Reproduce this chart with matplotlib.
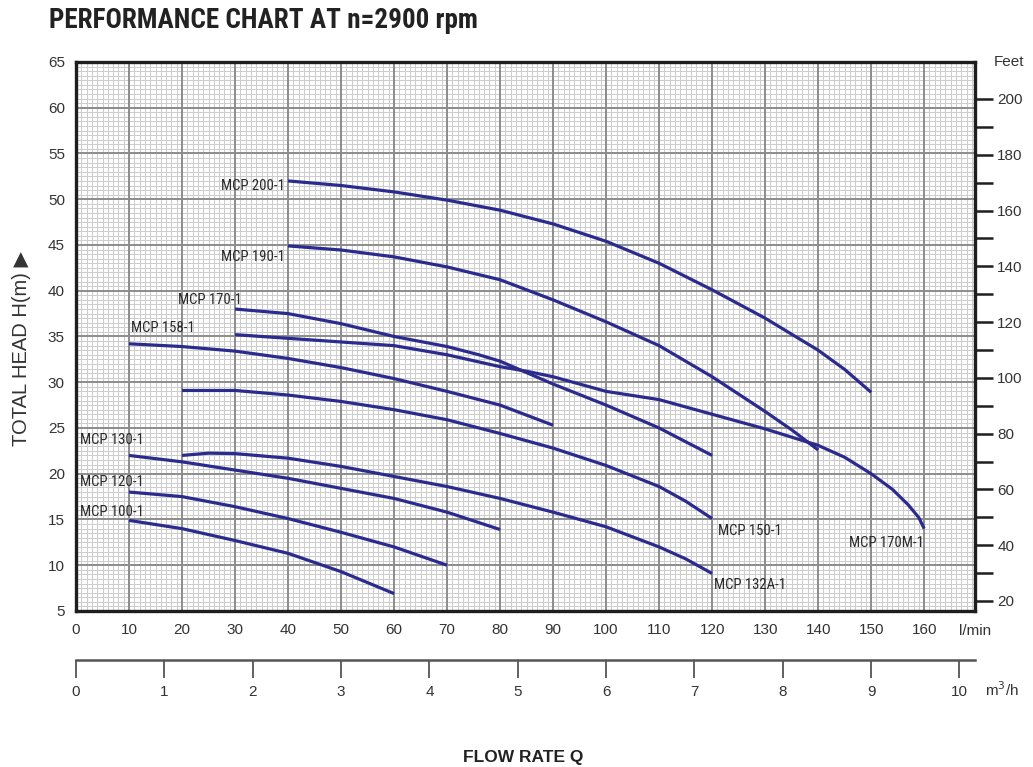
import matplotlib
matplotlib.use("Agg")
import matplotlib.pyplot as plt
from matplotlib import font_manager
from matplotlib.ticker import MultipleLocator, FixedLocator

# ---------------- data ----------------
flow_200 = [40, 50, 60, 70, 80, 90, 100, 110, 120, 130, 140, 145, 150]
head_200 = [52.0, 51.5, 50.8, 49.9, 48.8, 47.3, 45.4, 43.0, 40.1, 37.0, 33.5, 31.4, 28.9]

flow_190 = [40, 50, 60, 70, 80, 90, 100, 110, 120, 130, 135, 140]
head_190 = [44.9, 44.45, 43.7, 42.6, 41.2, 39.0, 36.6, 34.0, 30.6, 26.8, 24.8, 22.6]

flow_170 = [30, 40, 50, 60, 70, 76, 80, 90, 100, 110, 120]
head_170 = [38.0, 37.5, 36.4, 35.0, 33.9, 33.0, 32.3, 29.8, 27.5, 25.0, 22.0]

flow_170M = [30, 40, 50, 60, 70, 80, 85, 90, 100, 110, 120, 130, 140, 145, 150, 154, 157, 159, 160]
head_170M = [35.2, 34.8, 34.4, 34.0, 33.0, 31.7, 31.2, 30.6, 29.0, 28.1, 26.5, 24.9, 23.1, 21.8, 20.0, 18.3, 16.6, 15.2, 14.0]

flow_158 = [10, 20, 30, 40, 50, 60, 70, 80, 90]
head_158 = [34.2, 33.9, 33.4, 32.6, 31.6, 30.4, 29.0, 27.5, 25.3]

flow_150 = [20, 30, 40, 50, 60, 70, 80, 90, 100, 110, 115, 120]
head_150 = [29.1, 29.1, 28.6, 27.9, 27.0, 25.9, 24.4, 22.8, 20.9, 18.6, 17.0, 15.1]

flow_130 = [10, 20, 30, 40, 50, 60, 70, 80]
head_130 = [22.0, 21.3, 20.4, 19.5, 18.4, 17.3, 15.8, 13.9]

flow_132A = [20, 25, 30, 40, 50, 60, 70, 80, 90, 100, 110, 115, 120]
head_132A = [22.0, 22.25, 22.2, 21.7, 20.8, 19.7, 18.6, 17.3, 15.8, 14.2, 12.0, 10.7, 9.1]

flow_120 = [10, 20, 30, 40, 50, 60, 70]
head_120 = [18.0, 17.5, 16.4, 15.1, 13.6, 12.0, 10.0]

flow_100 = [10, 20, 30, 40, 50, 60]
head_100 = [14.9, 14.0, 12.7, 11.3, 9.3, 6.9]

curve_flows = [flow_200, flow_190, flow_170, flow_170M, flow_158, flow_150,
               flow_130, flow_132A, flow_120, flow_100]
curve_heads = [head_200, head_190, head_170, head_170M, head_158, head_150,
               head_130, head_132A, head_120, head_100]

label_texts = ["MCP 200-1", "MCP 190-1", "MCP 170-1", "MCP 158-1", "MCP 130-1",
               "MCP 120-1", "MCP 100-1", "MCP 150-1", "MCP 132A-1", "MCP 170M-1"]
label_x = [39.4, 39.4, 31.3, 10.4, 0.75, 0.75, 0.75, 121.1, 120.4, 145.8]
label_y = [51.45, 43.7, 39.0, 35.9, 23.7, 19.1, 15.85, 13.7, 7.85, 12.4]
label_ha = ["right", "right", "right", "left", "left", "left", "left", "left", "left", "left"]

flow_ticks = list(range(0, 161, 10))
head_ticks = list(range(5, 66, 5))
m3h_ticks = list(range(0, 11))
feet_major = list(range(20, 201, 20))
feet_minor = list(range(30, 191, 20))

FT_PER_M = 3.28084
LPM_PER_M3H = 1000.0 / 60.0

# ---------------- fonts ----------------
avail = {f.name for f in font_manager.fontManager.ttflist}
def pick(cands):
    for c in cands:
        if c in avail:
            return c
    return "DejaVu Sans"
base_font = pick(["Liberation Sans", "Arimo", "DejaVu Sans"])
narrow_font = pick(["Liberation Sans Narrow", "DejaVu Sans Condensed", "Roboto Condensed", "Liberation Sans"])
plt.rcParams["font.family"] = [base_font, "DejaVu Sans"]

# ---------------- figure ----------------
fig = plt.figure(figsize=(10.33, 7.67), dpi=100)
ax = fig.add_axes([0.0736, 0.2034, 0.8703, 0.7158])

x_max = 169.6
ax.set_xlim(0, x_max)
ax.set_ylim(5, 65)

ax.xaxis.set_major_locator(FixedLocator(flow_ticks))
ax.yaxis.set_major_locator(FixedLocator(head_ticks))
ax.xaxis.set_minor_locator(MultipleLocator(1))
ax.yaxis.set_minor_locator(MultipleLocator(0.5))
ax.grid(which="minor", color="#cdcdcd", linewidth=0.75)
ax.grid(which="major", visible=False)
ax.set_axisbelow(True)
# major grid drawn above the minor mesh so it stays solid
ax.vlines(flow_ticks[1:], 5, 65, colors="#8c8c8c", linewidth=1.4, zorder=1.5)
ax.hlines(head_ticks[1:-1], 0, x_max, colors="#8c8c8c", linewidth=1.4, zorder=1.5)

ax.tick_params(axis="both", which="both", length=0)
ax.tick_params(axis="x", which="major", pad=9, labelsize=11, labelcolor="#333333")
ax.tick_params(axis="y", which="major", pad=8, labelsize=11, labelcolor="#333333")

for s in ax.spines.values():
    s.set_linewidth(2.4)
    s.set_color("#1e1e1e")
    s.set_zorder(5)

line_color = "#2b2b8f"
for fx, hy in zip(curve_flows, curve_heads):
    ax.plot(fx, hy, color=line_color, linewidth=2.3, solid_joinstyle="round",
            solid_capstyle="butt", zorder=3)

for t, x, y, ha in zip(label_texts, label_x, label_y, label_ha):
    ax.text(x, y, t, ha=ha, va="center", fontsize=10.6, color="#2a2a2a",
            family=[narrow_font, "DejaVu Sans"], zorder=4)

# right Feet axis
axr = ax.twinx()
axr.set_ylim(5 * FT_PER_M, 65 * FT_PER_M)
axr.yaxis.set_major_locator(FixedLocator(feet_major))
axr.yaxis.set_minor_locator(FixedLocator(feet_minor))
axr.tick_params(axis="y", which="both", direction="out", length=13, width=1.8,
                color="#1e1e1e", pad=3, labelsize=11, labelcolor="#333333")
for s in axr.spines.values():
    s.set_visible(False)
axr.text(1.021, 1.0, "Feet", transform=ax.transAxes, ha="left", va="center",
         fontsize=11, color="#333333")

# second flow axis m3/h
sec = ax.secondary_xaxis(-0.0893, functions=(lambda q: q / LPM_PER_M3H,
                                             lambda m: m * LPM_PER_M3H))
sec.xaxis.set_major_locator(FixedLocator(m3h_ticks))
sec.tick_params(axis="x", direction="out", length=13, width=1.3, color="#555555",
                pad=5, labelsize=11, labelcolor="#333333")
sec.spines["bottom"].set_linewidth(1.8)
sec.spines["bottom"].set_color("#555555")

ax.text(1.0, -0.036, "l/min", transform=ax.transAxes, ha="center", va="center",
        fontsize=11, color="#333333")
ax.text(1.03, -0.144, "m$^3$/h", transform=ax.transAxes, ha="center", va="center",
        fontsize=11, color="#333333")

# titles
fig.text(0.047, 0.973, "PERFORMANCE CHART AT n=2900 rpm", ha="left", va="center",
         fontsize=19.5, fontweight="bold", color="#222222",
         family=[narrow_font, "DejaVu Sans"])
fig.text(0.021, 0.546, "TOTAL HEAD H(m) \u25B6", rotation=90, ha="center", va="center",
         fontsize=14.5, color="#333333", family=[base_font, "DejaVu Sans"])
fig.text(0.506, 0.013, "FLOW RATE Q", ha="center", va="center",
         fontsize=12.5, fontweight="bold", color="#222222")

fig.savefig("out.png", dpi=100)
